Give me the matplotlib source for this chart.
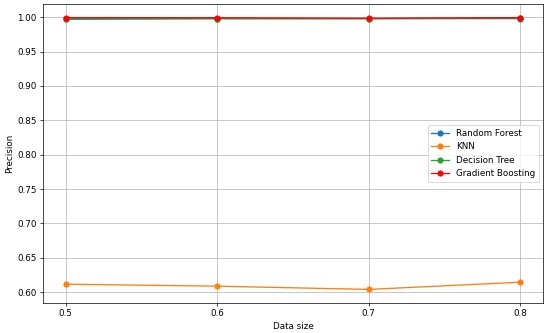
import matplotlib
matplotlib.use('Agg')
import matplotlib.pyplot as plt

# data
data_size = [0.5, 0.6, 0.7, 0.8]
random_forest = [0.997, 0.998, 0.998, 0.998]
knn = [0.6116, 0.6087, 0.6040, 0.6145]
decision_tree = [0.998, 0.998, 0.998, 0.999]
gradient_boosting = [0.9995, 0.9993, 0.9985, 0.9995]

dpi = 63
fig = plt.figure(figsize=(550 / dpi, 333 / dpi), dpi=dpi)
ax = fig.add_axes([43 / 550, 1 - 303 / 333, 500 / 550, 299 / 333])

ax.plot(data_size, random_forest, marker='o', label='Random Forest')
ax.plot(data_size, knn, marker='o', label='KNN')
ax.plot(data_size, decision_tree, marker='o', label='Decision Tree')
ax.plot(data_size, gradient_boosting, marker='o', label='Gradient Boosting', color='red')

ax.set_xticks(data_size)
ax.set_xlabel('Data size')
ax.set_ylabel('Precision')
ax.grid(True)
ax.legend(loc='center right')

fig.savefig('out.png', dpi=dpi)
